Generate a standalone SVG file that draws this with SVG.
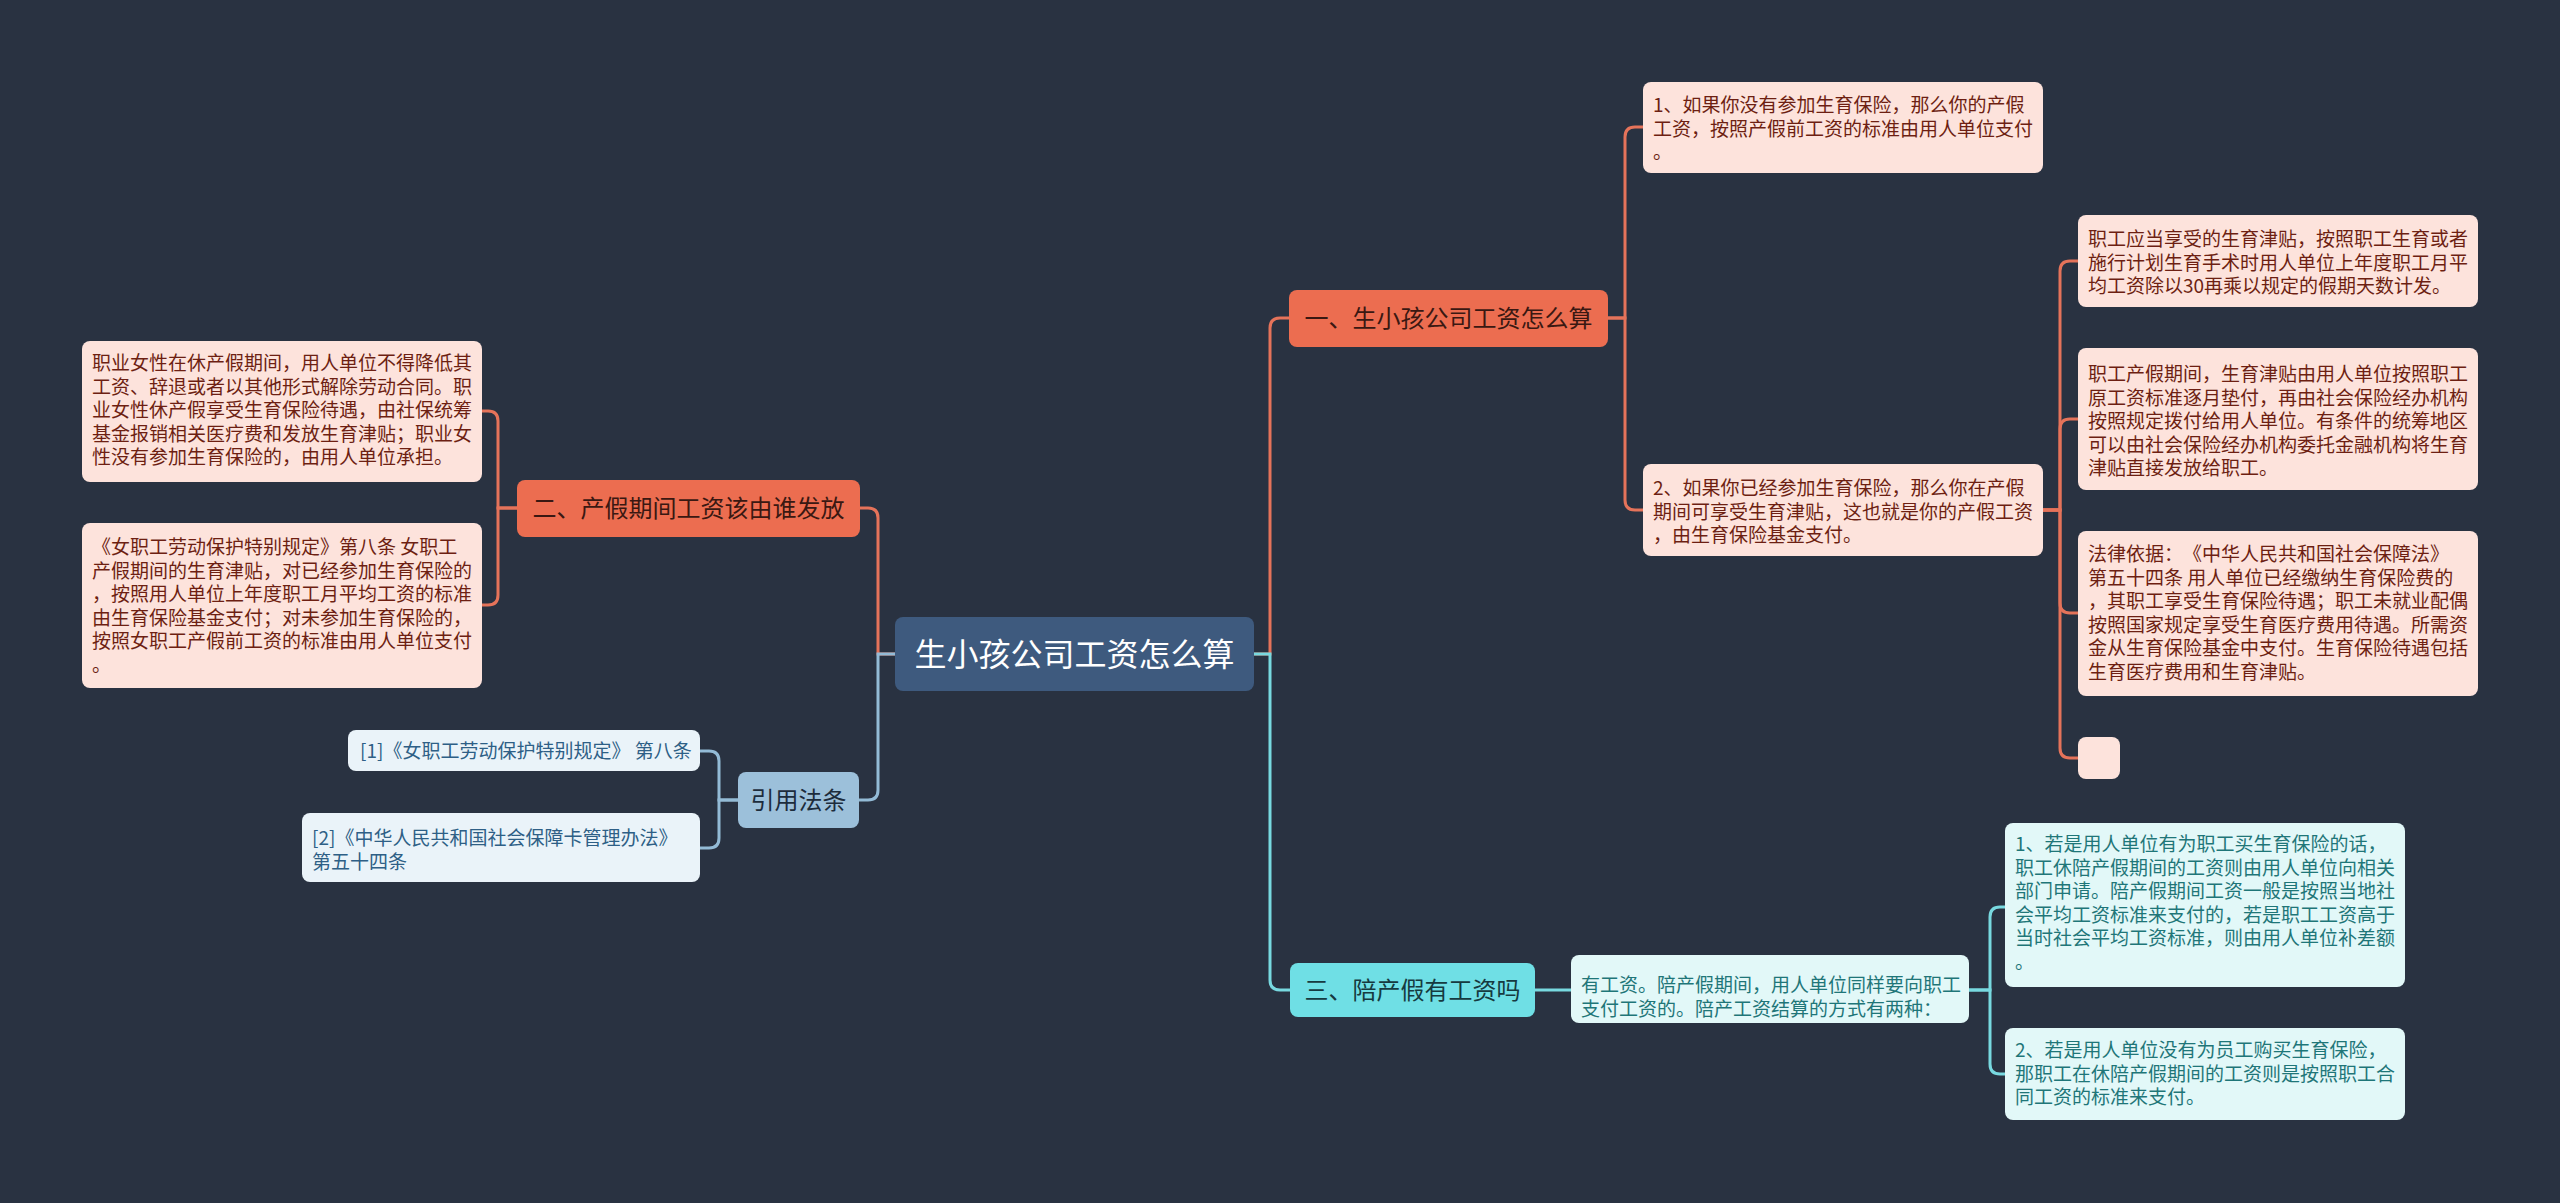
<svg xmlns="http://www.w3.org/2000/svg" width="2560" height="1203" viewBox="0 0 2560 1203">
<style>
text{font-family:"Noto Sans CJK SC","Noto Sans",sans-serif;text-spacing-trim:space-all}
.root{fill:#3e5a7e}
.rt{fill:#ffffff;font-size:32px;text-anchor:middle}
.br{fill:#ec6d50}
.bt{fill:#3a1812;font-size:24px;text-anchor:middle}
.pk{fill:#fde3dc}
.pt{fill:#6d1f12;font-size:19px}
.tb{fill:#6fdfe5}
.tbt{fill:#163a40;font-size:24px;text-anchor:middle}
.tl{fill:#e2f8f8}
.tt{fill:#1f7678;font-size:19px}
.bb{fill:#9cc0da}
.bbt{fill:#1c2c3c;font-size:24px;text-anchor:middle}
.bl{fill:#eaf3f9}
.blt{fill:#2e5f86;font-size:19px}
.c{fill:none;stroke-width:3}
.cc{stroke:#e5735a}
.ct{stroke:#78d9e0}
.cb{stroke:#93bbd6}
</style>
<rect width="2560" height="1203" fill="#293241"/>
<g id="connectors">
<path class="c cc" d="M1254,654 H1270 V328 Q1270,318 1280,318 H1289"/>
<path class="c ct" d="M1254,654 H1270 V980 Q1270,990 1280,990 H1290"/>
<path class="c cc" d="M895,654 H878 V518 Q878,508 868,508 H860"/>
<path class="c cb" d="M895,654 H878 V790 Q878,800 868,800 H859"/>
<path class="c cc" d="M1608,318 H1625 V137 Q1625,127 1635,127 H1643"/>
<path class="c cc" d="M1608,318 H1625 V500 Q1625,510 1635,510 H1643"/>
<path class="c cc" d="M2043,510 H2060 V271 Q2060,261 2070,261 H2078"/>
<path class="c cc" d="M2043,510 H2060 V429 Q2060,419 2070,419 H2078"/>
<path class="c cc" d="M2043,510 H2060 V603 Q2060,613 2070,613 H2078"/>
<path class="c cc" d="M2043,510 H2060 V748 Q2060,758 2070,758 H2078"/>
<path class="c cc" d="M517,508 H498 V421 Q498,411 488,411 H482"/>
<path class="c cc" d="M517,508 H498 V595 Q498,605 488,605 H482"/>
<path class="c cb" d="M738,800 H719 V761 Q719,751 709,751 H700"/>
<path class="c cb" d="M738,800 H719 V838 Q719,848 709,848 H700"/>
<path class="c ct" d="M1535,990 H1571"/>
<path class="c ct" d="M1969,990 H1990 V917 Q1990,907 2000,907 H2005"/>
<path class="c ct" d="M1969,990 H1990 V1064 Q1990,1074 2000,1074 H2005"/>
</g>
<g id="root">
<rect class="root" x="895" y="617" width="359" height="74" rx="8"/>
<text class="rt" x="1074.5" y="666">生小孩公司工资怎么算</text>
</g>
<g id="b1">
<rect class="br" x="1289" y="290" width="319" height="57" rx="8"/>
<text class="bt" x="1448.5" y="327">一、生小孩公司工资怎么算</text>
</g>
<g id="b1-1">
<rect class="pk" x="1643" y="82" width="400" height="91" rx="8"/>
<text class="pt" x="1653" y="112">1、如果你没有参加生育保险，那么你的产假<tspan x="1653" dy="23.5">工资，按照产假前工资的标准由用人单位支付</tspan><tspan x="1653" dy="23.5">。</tspan></text>
</g>
<g id="b1-2">
<rect class="pk" x="1643" y="464" width="400" height="92" rx="8"/>
<text class="pt" x="1653" y="495">2、如果你已经参加生育保险，那么你在产假<tspan x="1653" dy="23.5">期间可享受生育津贴，这也就是你的产假工资</tspan><tspan x="1653" dy="23.5">，由生育保险基金支付。</tspan></text>
</g>
<g id="b1-2-1">
<rect class="pk" x="2078" y="215" width="400" height="92" rx="8"/>
<text class="pt" x="2088" y="246">职工应当享受的生育津贴，按照职工生育或者<tspan x="2088" dy="23.5">施行计划生育手术时用人单位上年度职工月平</tspan><tspan x="2088" dy="23.5">均工资除以30再乘以规定的假期天数计发。</tspan></text>
</g>
<g id="b1-2-2">
<rect class="pk" x="2078" y="348" width="400" height="142" rx="8"/>
<text class="pt" x="2088" y="381">职工产假期间，生育津贴由用人单位按照职工<tspan x="2088" dy="23.5">原工资标准逐月垫付，再由社会保险经办机构</tspan><tspan x="2088" dy="23.5">按照规定拨付给用人单位。有条件的统筹地区</tspan><tspan x="2088" dy="23.5">可以由社会保险经办机构委托金融机构将生育</tspan><tspan x="2088" dy="23.5">津贴直接发放给职工。</tspan></text>
</g>
<g id="b1-2-3">
<rect class="pk" x="2078" y="531" width="400" height="165" rx="8"/>
<text class="pt" x="2088" y="561">法律依据：《中华人民共和国社会保障法》<tspan x="2088" dy="23.5">第五十四条 用人单位已经缴纳生育保险费的</tspan><tspan x="2088" dy="23.5">，其职工享受生育保险待遇；职工未就业配偶</tspan><tspan x="2088" dy="23.5">按照国家规定享受生育医疗费用待遇。所需资</tspan><tspan x="2088" dy="23.5">金从生育保险基金中支付。生育保险待遇包括</tspan><tspan x="2088" dy="23.5">生育医疗费用和生育津贴。</tspan></text>
</g>
<g id="b1-2-4">
<rect class="pk" x="2078" y="737" width="42" height="42" rx="8"/>
</g>
<g id="b2">
<rect class="br" x="517" y="480" width="343" height="57" rx="8"/>
<text class="bt" x="688.5" y="517">二、产假期间工资该由谁发放</text>
</g>
<g id="b2-1">
<rect class="pk" x="82" y="341" width="400" height="141" rx="8"/>
<text class="pt" x="92" y="370">职业女性在休产假期间，用人单位不得降低其<tspan x="92" dy="23.5">工资、辞退或者以其他形式解除劳动合同。职</tspan><tspan x="92" dy="23.5">业女性休产假享受生育保险待遇，由社保统筹</tspan><tspan x="92" dy="23.5">基金报销相关医疗费和发放生育津贴；职业女</tspan><tspan x="92" dy="23.5">性没有参加生育保险的，由用人单位承担。</tspan></text>
</g>
<g id="b2-2">
<rect class="pk" x="82" y="523" width="400" height="165" rx="8"/>
<text class="pt" x="92" y="554">《女职工劳动保护特别规定》第八条 女职工<tspan x="92" dy="23.5">产假期间的生育津贴，对已经参加生育保险的</tspan><tspan x="92" dy="23.5">，按照用人单位上年度职工月平均工资的标准</tspan><tspan x="92" dy="23.5">由生育保险基金支付；对未参加生育保险的，</tspan><tspan x="92" dy="23.5">按照女职工产假前工资的标准由用人单位支付</tspan><tspan x="92" dy="23.5">。</tspan></text>
</g>
<g id="refs">
<rect class="bb" x="738" y="772" width="121" height="56" rx="8"/>
<text class="bbt" x="798.5" y="809">引用法条</text>
</g>
<g id="ref-1">
<rect class="bl" x="348" y="730" width="352" height="41" rx="8"/>
<text class="blt" x="360" y="758">[1]《女职工劳动保护特别规定》 第八条</text>
</g>
<g id="ref-2">
<rect class="bl" x="302" y="813" width="398" height="69" rx="8"/>
<text class="blt" x="312" y="845">[2]《中华人民共和国社会保障卡管理办法》<tspan x="312" dy="23.5">第五十四条</tspan></text>
</g>
<g id="b3">
<rect class="tb" x="1290" y="963" width="245" height="54" rx="8"/>
<text class="tbt" x="1412.5" y="999">三、陪产假有工资吗</text>
</g>
<g id="b3-1">
<rect class="tl" x="1571" y="955" width="398" height="68" rx="8"/>
<text class="tt" x="1581" y="992">有工资。陪产假期间，用人单位同样要向职工<tspan x="1581" dy="23.5">支付工资的。陪产工资结算的方式有两种：</tspan></text>
</g>
<g id="b3-1-1">
<rect class="tl" x="2005" y="823" width="400" height="164" rx="8"/>
<text class="tt" x="2015" y="851">1、若是用人单位有为职工买生育保险的话，<tspan x="2015" dy="23.5">职工休陪产假期间的工资则由用人单位向相关</tspan><tspan x="2015" dy="23.5">部门申请。陪产假期间工资一般是按照当地社</tspan><tspan x="2015" dy="23.5">会平均工资标准来支付的，若是职工工资高于</tspan><tspan x="2015" dy="23.5">当时社会平均工资标准，则由用人单位补差额</tspan><tspan x="2015" dy="23.5">。</tspan></text>
</g>
<g id="b3-1-2">
<rect class="tl" x="2005" y="1028" width="400" height="92" rx="8"/>
<text class="tt" x="2015" y="1057">2、若是用人单位没有为员工购买生育保险，<tspan x="2015" dy="23.5">那职工在休陪产假期间的工资则是按照职工合</tspan><tspan x="2015" dy="23.5">同工资的标准来支付。</tspan></text>
</g>
</svg>
